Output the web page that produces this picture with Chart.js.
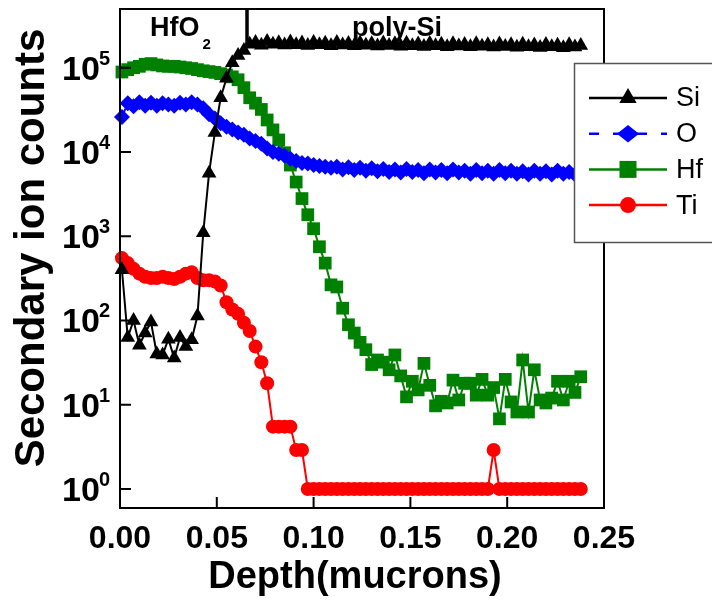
<!DOCTYPE html>
<html>
<head>
<meta charset="utf-8">
<script src="https://cdn.jsdelivr.net/npm/chart.js@4.4.1/dist/chart.umd.min.js"></script>
<style>
  html, body { margin: 0; padding: 0; background: #fff; }
</style>
</head>
<body>
<canvas id="chart" width="712" height="604"></canvas>
<script>
// depth (microns)
const depth = [
  0.001, 0.004, 0.007, 0.010, 0.013, 0.016, 0.019, 0.022, 0.025, 0.028,
  0.031, 0.034, 0.037, 0.040, 0.043, 0.046, 0.049, 0.052, 0.055, 0.058,
  0.061, 0.064, 0.067, 0.070, 0.073, 0.076, 0.079, 0.082, 0.085, 0.088,
  0.091, 0.094, 0.097, 0.100, 0.103, 0.106, 0.109, 0.112, 0.115, 0.118,
  0.121, 0.124, 0.127, 0.130, 0.133, 0.136, 0.139, 0.142, 0.145, 0.148,
  0.151, 0.154, 0.157, 0.160, 0.163, 0.166, 0.169, 0.172, 0.175, 0.178,
  0.181, 0.184, 0.187, 0.190, 0.193, 0.196, 0.199, 0.202, 0.205, 0.208,
  0.211, 0.214, 0.217, 0.220, 0.223, 0.226, 0.229, 0.232, 0.235, 0.238
];

const siCounts = [
  400, 63, 100, 51, 71, 96, 40, 39, 60, 36, 63, 49, 59, 113,
  1100, 5600, 17000, 44000, 75000, 115000, 140000, 160000,
  190000, 200000, 185000, 205000, 190000, 198000, 186000, 202000, 188000, 196000,
  184000, 200000, 187000, 195000, 183000, 199000, 186000, 194000, 182000, 197000,
  185000, 193000, 181000, 196000, 184000, 192000, 180000, 195000, 183000, 191000,
  179000, 194000, 182000, 190000, 178000, 193000, 181000, 189000, 177000, 192000,
  180000, 188000, 176000, 191000, 179000, 187000, 175000, 190000, 178000, 186000,
  174000, 189000, 177000, 185000, 173000, 188000, 176000, 184000
];

const oCounts = [
  26000, 38000, 35000, 39000, 35500, 38500, 35500, 38000, 36500, 35500, 38500, 36500, 39000, 36500,
  33000, 28000, 25000, 22000, 20000, 18500, 17000, 16000, 14500, 13500, 12500, 11000,
  10000, 9500, 9000, 8300, 7800, 7400, 7300, 7000, 6800, 6700,
  6500, 6700, 6200, 6600, 6100, 6500, 6000, 6400, 5900, 6300,
  5800, 6200, 5700, 6300, 5800, 6100, 5600, 6200, 5700, 6100,
  5600, 6200, 5700, 6000, 5500, 6100, 5600, 6000, 5500, 6100,
  5600, 6000, 5500, 5900, 5400, 6000, 5500, 5900, 5400, 6000,
  5500, 5800, 5400, 5800
];

const hfCounts = [
  89000, 95000, 100000, 104000, 110000, 112000, 108000, 105000, 104000, 104000,
  102000, 100000, 98000, 95000, 92000, 90000, 88000, 85000, 82000, 78000, 72000,
  58000, 44000, 38000, 32000, 24000, 18300, 13900, 9800, 7000, 4400,
  2800, 1800, 1230, 750, 480, 265, 250, 140, 89, 71,
  55, 45, 30, 34, 32, 26, 39, 22, 12.4, 19,
  15, 31, 17, 9.7, 11, 10.5, 19.6, 11.4, 18, 18,
  13, 20, 13, 16, 6.8, 20, 10.8, 8.2, 34, 8.2,
  26, 11.4, 10.5, 12, 19, 11.4, 19, 14, 21.5
];

const tiCounts = [
  550, 480, 410, 360, 330, 320, 320, 330, 320, 310,
  330, 360, 375, 320, 300, 300, 290, 260, 165, 135,
  120, 94, 75, 49, 32, 18, 5.5, 5.5, 5.5, 5.5,
  2.9, 2.9, 1, 1, 1, 1, 1, 1, 1, 1,
  1, 1, 1, 1, 1, 1, 1, 1, 1, 1,
  1, 1, 1, 1, 1, 1, 1, 1, 1, 1,
  1, 1, 1, 1, 2.9, 1, 1, 1, 1, 1,
  1, 1, 1, 1, 1, 1, 1, 1, 1, 1
];

const xTicks = [0, 0.05, 0.10, 0.15, 0.20, 0.25];
const yTickExps = [0, 1, 2, 3, 4, 5];
const yMin = 0.595, yMax = 498000;
const interfaceDepth = 0.0656;

const FONT = '"Liberation Sans", Arial, sans-serif';

function pts(vals) { return depth.map((d, i) => ({ x: d, y: vals[i] })); }

const series = [
  { label: "Si", color: "#000000", style: "triangle", r: 8.5, dash: [], values: siCounts },
  { label: "O",  color: "#0000ff", style: "rectRot",  r: 8,   dash: [9, 9], values: oCounts },
  { label: "Hf", color: "#008000", style: "rect",     r: 9,   dash: [], values: hfCounts },
  { label: "Ti", color: "#ff0000", style: "circle",   r: 7,   dash: [], values: tiCounts }
];

const datasets = series.map(s => ({
  label: s.label,
  data: pts(s.values),
  borderColor: s.color,
  backgroundColor: s.color,
  borderWidth: 2,
  borderDash: s.dash,
  pointStyle: s.style,
  pointRadius: s.r,
  pointBorderWidth: 0,
  pointBackgroundColor: s.color,
  tension: 0,
  clip: false
}));

// interface line between HfO2 and poly-Si
datasets.push({
  label: "interface",
  data: [{ x: interfaceDepth, y: yMax }, { x: interfaceDepth, y: 176000 }],
  borderColor: "#000",
  borderWidth: 3.5,
  pointRadius: 0,
  clip: false
});

function drawMarker(ctx, style, x, y, r, color) {
  ctx.save();
  ctx.fillStyle = color;
  ctx.beginPath();
  if (style === "triangle") {
    ctx.moveTo(x, y - r);
    ctx.lineTo(x + r * 0.866, y + r * 0.5);
    ctx.lineTo(x - r * 0.866, y + r * 0.5);
    ctx.closePath();
  } else if (style === "rectRot") {
    ctx.moveTo(x, y - r * 0.8);
    ctx.lineTo(x + r, y);
    ctx.lineTo(x, y + r * 0.8);
    ctx.lineTo(x - r, y);
    ctx.closePath();
  } else if (style === "rect") {
    ctx.rect(x - r, y - r, 2 * r, 2 * r);
  } else {
    ctx.arc(x, y, r, 0, Math.PI * 2);
  }
  ctx.fill();
  ctx.restore();
}

const framePlugin = {
  id: "frame",
  afterDraw(chart) {
    const { ctx, chartArea: a, scales } = chart;
    const xs = scales.x, ys = scales.y;
    ctx.save();
    // frame
    ctx.strokeStyle = "#000";
    ctx.lineWidth = 2;
    ctx.strokeRect(a.left, a.top, a.right - a.left, a.bottom - a.top);
    // inward ticks
    ctx.beginPath();
    xTicks.forEach(v => {
      const px = xs.getPixelForValue(v);
      ctx.moveTo(px, a.bottom);
      ctx.lineTo(px, a.bottom - 11);
    });
    yTickExps.forEach(k => {
      const py = ys.getPixelForValue(Math.pow(10, k));
      ctx.moveTo(a.left, py);
      ctx.lineTo(a.left + 11, py);
    });
    ctx.stroke();

    // y tick labels 10^k
    ctx.fillStyle = "#000";
    ctx.textBaseline = "alphabetic";
    yTickExps.forEach(k => {
      const py = ys.getPixelForValue(Math.pow(10, k));
      ctx.font = "bold 20px " + FONT;
      const ew = ctx.measureText(String(k)).width;
      const right = a.left - 10;
      ctx.textAlign = "left";
      ctx.fillText(String(k), right - ew, py - 3);
      ctx.font = "bold 34px " + FONT;
      ctx.textAlign = "right";
      ctx.fillText("10", right - ew + 1, py + 12);
    });

    // axis titles
    ctx.save();
    ctx.translate(32, 248);
    ctx.rotate(-Math.PI / 2);
    ctx.font = "bold 42px " + FONT;
    ctx.textAlign = "center";
    ctx.textBaseline = "middle";
    ctx.fillText("Secondary ion counts", 0, 0);
    ctx.restore();
    ctx.font = "bold 38px " + FONT;
    ctx.textAlign = "center";
    ctx.textBaseline = "middle";
    ctx.fillText("Depth(mucrons)", 355, 578);

    // layer labels
    ctx.textAlign = "left";
    ctx.textBaseline = "alphabetic";
    ctx.font = "bold 27px " + FONT;
    const by = ys.getPixelForValue(238000);
    const hx = xs.getPixelForValue(0.0155);
    ctx.fillText("HfO", hx, by);
    const hw = ctx.measureText("HfO").width;
    ctx.font = "bold 15px " + FONT;
    ctx.fillText("2", hx + hw + 3, by + 13);
    ctx.font = "bold 27px " + FONT;
    ctx.fillText("poly-Si", xs.getPixelForValue(0.1198), by);

    // legend box
    const lx = 574, ly = 63, lw = 150, lh = 179;
    ctx.fillStyle = "#fff";
    ctx.fillRect(lx, ly, lw, lh);
    ctx.strokeStyle = "#555";
    ctx.lineWidth = 1.5;
    ctx.strokeRect(lx + 0.5, ly + 0.5, lw, lh);
    const legR = { triangle: 10, rectRot: 11, rect: 8.5, circle: 8 };
    series.forEach((s, i) => {
      const y = 98 + i * 35.7;
      ctx.strokeStyle = s.color;
      ctx.lineWidth = 2.5;
      ctx.setLineDash(s.dash.length ? [10, 14] : []);
      ctx.beginPath();
      ctx.moveTo(589, y);
      ctx.lineTo(667, y);
      ctx.stroke();
      ctx.setLineDash([]);
      drawMarker(ctx, s.style, 628, y, legR[s.style], s.color);
      ctx.fillStyle = "#000";
      ctx.font = "27px " + FONT;
      ctx.textBaseline = "middle";
      ctx.textAlign = "left";
      ctx.fillText(s.label, 676, y + 1);
    });
    ctx.restore();
  }
};

new Chart(document.getElementById("chart"), {
  type: "line",
  data: { datasets: datasets },
  options: {
    responsive: false,
    animation: false,
    layout: { padding: { left: 0, right: 108, top: 9, bottom: 0 } },
    plugins: { legend: { display: false }, tooltip: { enabled: false } },
    scales: {
      x: {
        type: "linear",
        min: 0, max: 0.25,
        afterFit: s => { s.height = 96; },
        afterBuildTicks: s => { s.ticks = xTicks.map(v => ({ value: v })); },
        grid: { display: false, drawTicks: false },
        border: { display: false },
        ticks: {
          padding: 12,
          color: "#000",
          font: { family: FONT, size: 32, weight: "bold" },
          maxRotation: 0,
          callback: v => Number(v).toFixed(2)
        },
        title: { display: false }
      },
      y: {
        type: "logarithmic",
        min: yMin, max: yMax,
        afterFit: s => { s.width = 120; },
        afterBuildTicks: s => { s.ticks = yTickExps.map(k => ({ value: Math.pow(10, k) })); },
        grid: { display: false, drawTicks: false },
        border: { display: false },
        ticks: { display: false },
        title: { display: false }
      }
    }
  },
  plugins: [framePlugin]
});
</script>
</body>
</html>
